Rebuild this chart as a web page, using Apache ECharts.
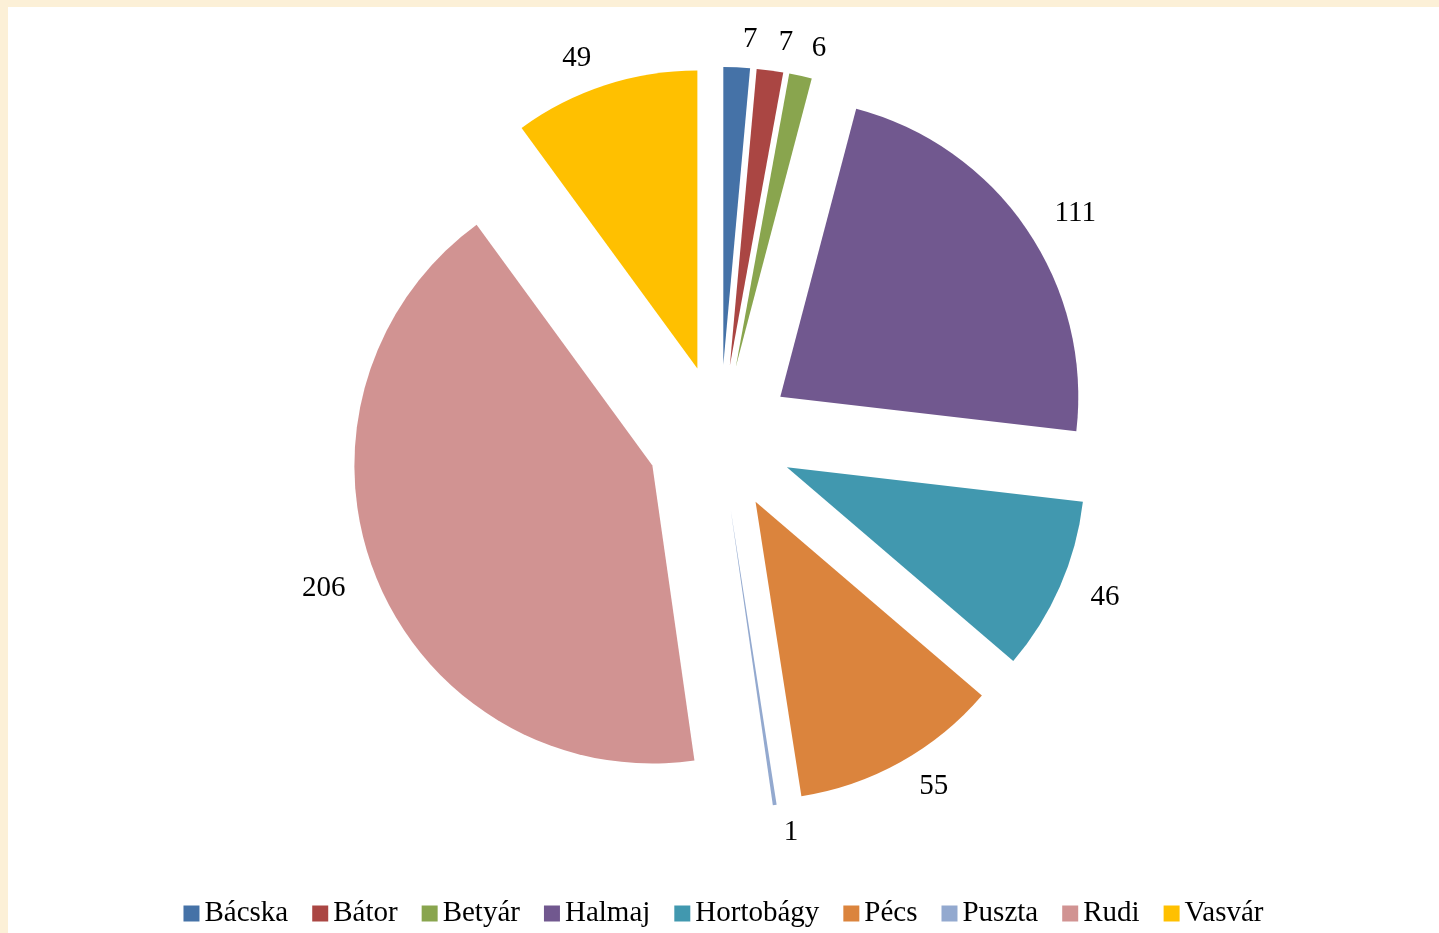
<!DOCTYPE html>
<html lang="en">
<head>
    <meta charset="UTF-8">
    <title>Pie</title>
    <script src="https://cdn.jsdelivr.net/npm/echarts@6/dist/echarts.min.js"></script>
    <style>
        html, body { margin: 0; padding: 0; background: #fcf0d7; }
        #chart { position: absolute; left: 8px; top: 7px; width: 1431px; height: 926px; background: #ffffff; }
    </style>
</head>
<body>
<div id="chart"></div>
<script>
    // data
    var names = ['Bácska', 'Bátor', 'Betyár', 'Halmaj', 'Hortobágy', 'Pécs', 'Puszta', 'Rudi', 'Vasvár']
    var values = [7, 7, 6, 111, 46, 55, 1, 206, 49]
    var colors = ['#4572a7', '#aa4643', '#89a54e', '#71588f', '#4198af', '#db843d', '#93a9cf', '#d19392', '#ffc000']

    var pieData = names.map(function (n, i) {
        return {name: n, value: values[i], selected: true, itemStyle: {color: colors[i]}}
    })

    var chart = echarts.init(document.getElementById('chart'))
    chart.setOption({
        animation: false,
        textStyle: {fontFamily: 'Liberation Serif'},
        legend: {
            bottom: 0,
            left: 'center',
            itemWidth: 16,
            itemHeight: 16,
            itemGap: 24,
            icon: 'rect',
            selectedMode: false,
            textStyle: {fontFamily: 'Liberation Serif', fontSize: 29, color: '#000'},
            data: names
        },
        series: [{
            type: 'pie',
            center: [712, 431],
            radius: [0, 298],
            startAngle: 90,
            clockwise: true,
            selectedMode: 'multiple',
            selectedOffset: 73,
            avoidLabelOverlap: false,
            emphasis: {disabled: true},
            label: {
                show: true,
                position: 'outside',
                formatter: '{c}',
                fontFamily: 'Liberation Serif',
                fontSize: 29,
                color: '#000'
            },
            labelLine: {show: false, length: 28, length2: 0},
            data: pieData
        }]
    })
</script>
</body>
</html>
